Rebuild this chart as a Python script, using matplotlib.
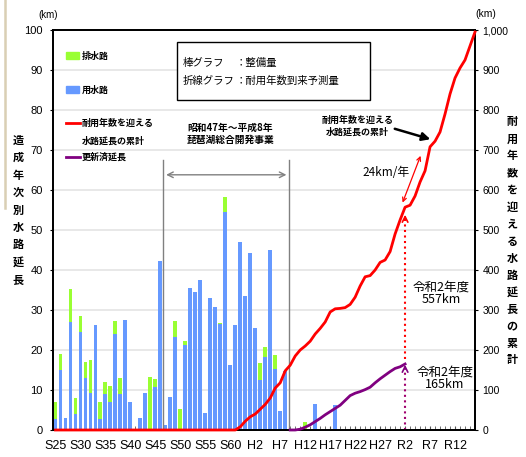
import numpy as np
import matplotlib; matplotlib.use('Agg')
import matplotlib.pyplot as plt
from matplotlib import font_manager
from matplotlib.patches import Rectangle
from matplotlib.lines import Line2D

W, H = 526, 457
JP = ['Noto Sans CJK JP', 'DejaVu Sans']
names = {f.name for f in font_manager.fontManager.ttflist}
NUM = 'Liberation Sans Narrow' if 'Liberation Sans Narrow' in names else 'Liberation Sans'
plt.rcParams['font.family'] = JP

GREEN, BLUE, RED, PURPLE = '#99ff33', '#6699ff', '#ff0000', '#800080'

# bars: 造成年次別水路延長 (km)
bar_years = list(range(1950, 1997)) + [2000, 2002, 2006]
yosui = [2.8, 15, 3, 27.1, 4, 24.6, 13.1, 9.3, 26.2, 2.8,
         9, 7, 24, 9, 27.4, 7.1, 0, 3, 9.3, 0,
         10.7, 42.3, 1.2, 8.2, 23.3, 0, 21.2, 35.4, 34.5, 37.5,
         4.3, 33, 30.8, 26.5, 54.6, 16.2, 26.3, 47.1, 33.5, 44.2,
         25.5, 12.5, 18.2, 44.9, 15.2, 4.8, 14.8,
         0, 6.4, 6.2]
haisui = [4.2, 4, 0, 8.1, 4.1, 4, 3.9, 8.1, 0, 4.1,
          3.1, 4, 3.2, 4.1, 0, 0, 0, 0, 0, 13.2,
          2, 0, 0, 0, 4, 5.3, 1.1, 0, 0, 0,
          0, 0, 0, 0.3, 3.6, 0, 0, 0, 0, 0,
          0, 4.2, 2.6, 0, 3.5, 0, 0,
          2.1, 0, 0]

# lines: cumulative length (km)
red_years = [1950, 1986] + list(range(1987, 2035))
red_vals = [0, 0,
            8, 22, 33, 40, 52, 64, 80, 105, 118, 148,
            162, 185, 200, 210, 222, 240, 254, 270, 295, 303,
            304, 306, 314, 332, 360, 383, 386, 400, 419, 425,
            446, 490, 525, 557, 562, 585, 620, 648, 708, 722,
            745, 790, 840, 880, 905, 925, 960, 995]
pur_years = list(range(1997, 2021))
pur_vals = [0, 0, 2, 7, 13, 21, 29, 38, 46, 54, 62, 74, 86, 92, 96, 101,
            107, 118, 128, 137, 146, 154, 158, 165]

tick_years = list(range(1950, 2031, 5))
tick_labels = ['S25', 'S30', 'S35', 'S40', 'S45', 'S50', 'S55', 'S60', 'H2',
               'H7', 'H12', 'H17', 'H22', 'H27', 'R2', 'R7', 'R12']

fig = plt.figure(figsize=(W/100, H/100), dpi=100)
ax = fig.add_axes([53/W, 1-430/H, 422/W, 400/H])
ax2 = ax.twinx()

def fx(x): return x/W
def fy(y): return 1-y/H

ax.bar(bar_years, yosui, width=0.78, color=BLUE, zorder=2)
ax.bar(bar_years, haisui, width=0.78, bottom=yosui, color=GREEN, zorder=2)
ax.set_xlim(1949.5, 2034)
ax.set_ylim(0, 100)
ax.set_yticks(range(0, 101, 10))
ax.grid(axis='y', color='#e4e4e4', lw=1.2, zorder=0)
ax.set_axisbelow(True)
ax.set_xticks(tick_years)
ax.set_xticks(range(1950, 2034), minor=True)
ax.set_xticklabels(tick_labels, fontfamily=NUM, fontsize=9)
ax.tick_params(axis='x', which='both', direction='in', length=3, color='#555555', pad=7)
ax.tick_params(axis='y', direction='out', length=2.5, pad=5, labelsize=8)
for t in ax.get_yticklabels():
    t.set_fontfamily(NUM)

ax2.plot(red_years, red_vals, color=RED, lw=2, clip_on=False, zorder=5)
ax2.plot(pur_years, pur_vals, color=PURPLE, lw=2, clip_on=False, zorder=5)
ax2.set_ylim(0, 1000)
ax2.set_yticks(range(0, 1001, 100))
ax2.set_yticklabels([f'{v:,}' for v in range(0, 1001, 100)], fontfamily=NUM, fontsize=7.5)
ax2.tick_params(axis='y', direction='out', length=2.5, pad=3)
for a in (ax, ax2):
    for s in a.spines.values():
        s.set_linewidth(1.3)

# 琵琶湖総合開発事業 span
for xv in (1971.6, 1996.8):
    ax.plot([xv, xv], [0, 67.5], color='#808080', lw=1, zorder=3)
ax.annotate('', xy=(1971.6, 63.8), xytext=(1996.8, 63.8),
            arrowprops=dict(arrowstyle='<->', color='#808080', lw=1, mutation_scale=10))
ax.text(1985, 74, '昭和47年～平成8年\n琵琶湖総合開発事業', ha='center', va='center',
        fontsize=7, fontweight='bold', linespacing=1.25)

# annotations on the right axis
ax2.text(2010.5, 760, '耐用年数を迎える\n水路延長の累計', ha='center', va='center',
         fontsize=6.5, fontweight='bold', linespacing=1.3)
ax2.annotate('', xy=(2025.6, 725), xytext=(2017.4, 755),
             arrowprops=dict(arrowstyle='-|>', color='black', lw=1.8, mutation_scale=12))
ax2.annotate('', xy=(2019.3, 562), xytext=(2023.3, 692),
             arrowprops=dict(arrowstyle='<->', color=RED, lw=0.9, mutation_scale=7))
ax2.text(2016.2, 643, '24km/年', ha='center', va='center', fontsize=8.5)

ax2.plot([2020, 2020], [178, 535], color=RED, ls=':', lw=1.5)
ax2.annotate('', xy=(2020, 545), xytext=(2020, 520),
             arrowprops=dict(arrowstyle='->', color=RED, lw=1.2, mutation_scale=10))
ax2.plot([2020, 2020], [0, 158], color='#a0006e', ls=':', lw=1.5, clip_on=False)
ax2.annotate('', xy=(2020, 170), xytext=(2020, 145),
             arrowprops=dict(arrowstyle='->', color=PURPLE, lw=1.2, mutation_scale=10))
ax2.text(2027.3, 342, '令和2年度\n557km', ha='center', va='center', fontsize=9, linespacing=0.95)
ax2.text(2028, 130, '令和2年度\n165km', ha='center', va='center', fontsize=9, linespacing=0.95)

# legend at left
fig.patches.append(Rectangle((fx(66), fy(59)), 13/W, 7/H, color=GREEN, transform=fig.transFigure))
fig.patches.append(Rectangle((fx(66), fy(93)), 13/W, 7/H, color=BLUE, transform=fig.transFigure))
fig.lines.append(Line2D([fx(66), fx(80)], [fy(123), fy(123)], color=RED, lw=2, transform=fig.transFigure))
fig.lines.append(Line2D([fx(66), fx(80)], [fy(157), fy(157)], color=PURPLE, lw=2, transform=fig.transFigure))
leg = dict(fontsize=6.5, fontweight='bold', va='center', ha='left')
fig.text(fx(82), fy(56), '排水路', **leg)
fig.text(fx(82), fy(90), '用水路', **leg)
fig.text(fx(82), fy(123), '耐用年数を迎える', **leg)
fig.text(fx(82), fy(141), '水路延長の累計', **leg)
fig.text(fx(82), fy(157), '更新済延長', **leg)

# box legend
fig.patches.append(Rectangle((fx(177), fy(100)), 193/W, 58/H, facecolor='white',
                             edgecolor='black', lw=1, transform=fig.transFigure))
bx = dict(fontsize=7.5, va='center', ha='left')
fig.text(fx(183), fy(63), '棒グラフ', **bx)
fig.text(fx(236), fy(63), '：整備量', **bx)
fig.text(fx(183), fy(81), '折線グラフ', **bx)
fig.text(fx(236), fy(81), '：耐用年数到来予測量', **bx)

# axis titles / units
fig.text(fx(48), fy(15), '(km)', ha='center', va='center', fontsize=7, fontfamily=NUM)
fig.text(fx(486), fy(14), '(km)', ha='center', va='center', fontsize=7.5, fontfamily=NUM)
fig.text(fx(18), fy(210), '\n'.join('造成年次別水路延長'), ha='center', va='center',
         fontsize=8, fontweight='bold', linespacing=1.45)
fig.text(fx(512), fy(241), '\n'.join('耐用年数を迎える水路延長の累計'), ha='center', va='center',
         fontsize=8, fontweight='bold', linespacing=1.4)

# slide frame remnant at far left
fig.lines.append(Line2D([fx(5), fx(5)], [fy(0), fy(208)], color='#d9cfb4', lw=1.8,
                        transform=fig.transFigure))

fig.savefig('out.png', dpi=100)
